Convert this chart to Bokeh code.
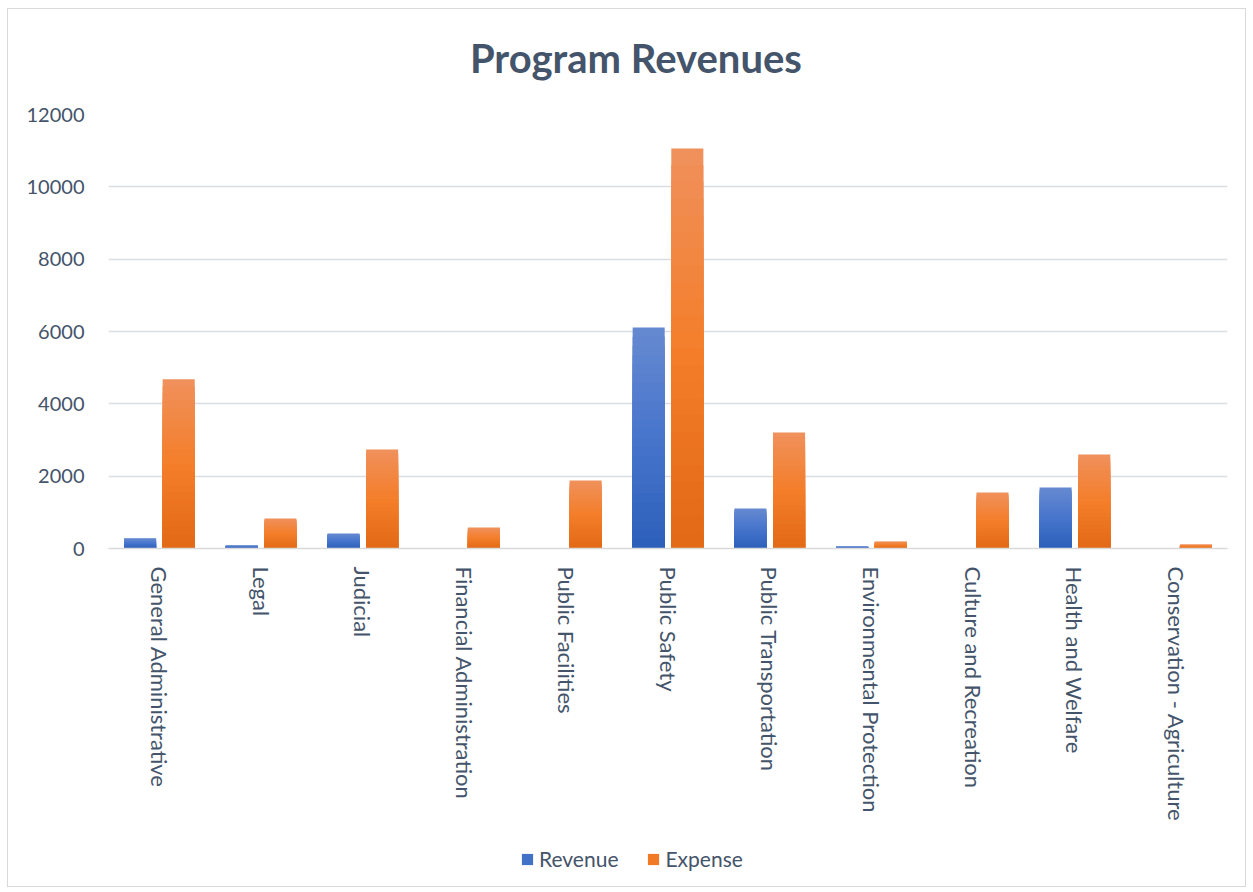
import math
from bokeh.plotting import figure
from bokeh.layouts import column
from bokeh.models import FactorRange, Range1d, Legend, LegendItem, ColumnDataSource, Label
from bokeh.transform import dodge
from bokeh.embed import file_html
from bokeh.resources import INLINE

title_text = "Program Revenues"
categories = ["General Administrative", "Legal", "Judicial", "Financial Administration",
              "Public Facilities", "Public Safety", "Public Transportation",
              "Environmental Protection", "Culture and Recreation", "Health and Welfare",
              "Conservation - Agriculture"]
revenue = [280, 85, 415, 0, 0, 6110, 1105, 55, 0, 1690, 0]
expense = [4680, 830, 2740, 580, 1880, 11060, 3210, 195, 1550, 2600, 110]
y_ticks = [0, 2000, 4000, 6000, 8000, 10000, 12000]
series_names = ["Revenue", "Expense"]

TEXT = "#44546A"
FONT = "Lato"
REV = ("#6589D0", "#4775CC", "#2D60BA")
EXP = ("#F0905A", "#F47E2A", "#E36A16")
W = 1237


def hex2rgb(h):
    h = h.lstrip("#")
    return tuple(int(h[i:i + 2], 16) for i in (0, 2, 4))


def mix(a, b, t):
    a, b = hex2rgb(a), hex2rgb(b)
    return "#%02x%02x%02x" % tuple(round(a[i] + (b[i] - a[i]) * t) for i in range(3))


def grad(stops, t):
    top, mid, bot = stops
    if t < 0.5:
        return mix(top, mid, t * 2)
    return mix(mid, bot, (t - 0.5) * 2)


def strip(h):
    f = figure(width=W, height=h, output_backend="svg", toolbar_location=None,
               min_border=0, x_range=Range1d(0, W), y_range=Range1d(0, h))
    f.axis.visible = False
    f.grid.grid_line_color = None
    f.outline_line_color = None
    f.border_fill_color = "white"
    return f


# title strip
tt = strip(90)
tt.add_layout(Label(x=583, y=42, text=title_text, text_align="center",
                    text_baseline="middle", text_font=FONT, text_font_size="40px",
                    text_font_style="bold", text_color=TEXT))

# main chart
p = figure(x_range=FactorRange(*categories), y_range=Range1d(0, 12000),
           width=W, height=741, output_backend="svg", toolbar_location=None,
           min_border_left=100, min_border_right=18, min_border_top=15,
           min_border_bottom=292)
p.outline_line_color = None
p.background_fill_color = "white"
p.border_fill_color = "white"

N = 24
for k in range(N):
    frac = (N - k) / N
    t = k / (N - 1)
    s = ColumnDataSource(dict(cat=categories,
                              rev=[v * frac for v in revenue],
                              exp=[v * frac for v in expense]))
    p.vbar(x=dodge("cat", -0.19, range=p.x_range), top="rev", width=0.315, source=s,
           fill_color=grad(REV, t), line_color=None)
    p.vbar(x=dodge("cat", 0.19, range=p.x_range), top="exp", width=0.315, source=s,
           fill_color=grad(EXP, t), line_color=None)

p.yaxis.ticker = y_ticks
p.yaxis.axis_line_color = None
p.yaxis.major_tick_line_color = None
p.yaxis.minor_tick_line_color = None
p.yaxis.major_label_text_font = FONT
p.yaxis.major_label_text_font_size = "20px"
p.yaxis.major_label_text_color = TEXT
p.yaxis.major_label_standoff = 18

p.xaxis.axis_line_color = "#D9D9D9"
p.xaxis.axis_line_width = 1.5
p.xaxis.major_tick_line_color = None
p.xaxis.minor_tick_line_color = None
p.xaxis.major_label_orientation = -math.pi / 2
p.xaxis.major_label_text_font = FONT
p.xaxis.major_label_text_font_size = "22px"
p.xaxis.major_label_text_color = TEXT
p.xaxis.major_label_standoff = 12

p.xgrid.grid_line_color = None
p.ygrid.grid_line_color = "#DADDE2"
p.ygrid.grid_line_width = 1.5

# legend strip below the chart
lg = strip(46)
r_rev = lg.vbar(x=[W / 2], top=[0], width=1, fill_color=grad(REV, 0.6), line_color=None)
r_exp = lg.vbar(x=[W / 2], top=[0], width=1, fill_color=grad(EXP, 0.6), line_color=None)
legend = Legend(items=[LegendItem(label=series_names[0], renderers=[r_rev]),
                       LegendItem(label=series_names[1], renderers=[r_exp])],
                orientation="horizontal", location=(412, 15))
legend.border_line_color = None
legend.background_fill_alpha = 0
legend.label_text_font = FONT
legend.label_text_font_size = "21px"
legend.label_text_color = TEXT
legend.glyph_width = 14
legend.glyph_height = 14
legend.spacing = 28
lg.add_layout(legend)

layout = column(tt, p, lg, spacing=0, margin=(8, 0, 0, 7),
                styles={"border": "1px solid #D9D9D9", "background": "white"})

open("out.html", "w").write(file_html(layout, INLINE))
